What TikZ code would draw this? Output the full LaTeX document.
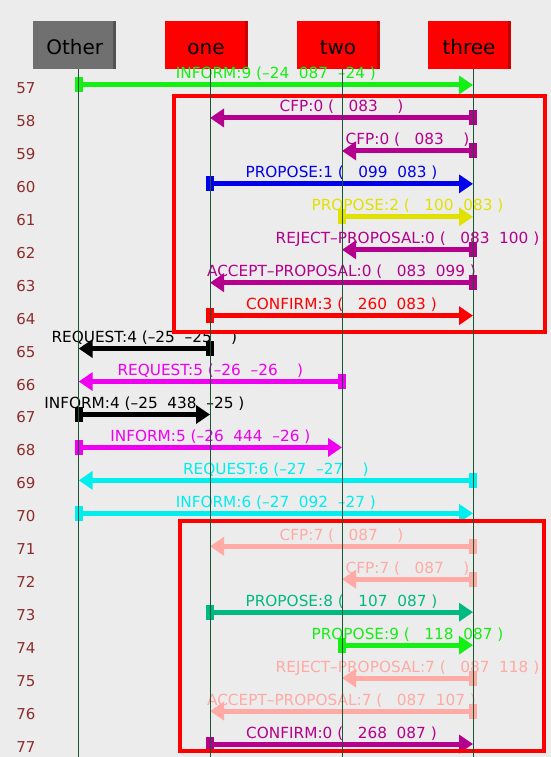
\documentclass[tikz,border=0pt]{standalone}
\usepackage{fontspec}
\setmainfont{DejaVu Sans}
\usepackage{xcolor}
\usepackage{tikz}
\usetikzlibrary{arrows.meta}

\definecolor{bggray}{RGB}{236,236,236}
\definecolor{agentgray}{RGB}{112,112,112}
\definecolor{lifegreen}{RGB}{25,85,50}
\definecolor{rowred}{RGB}{140,45,45}
\definecolor{mgreen}{RGB}{20,240,20}
\definecolor{mpurple}{RGB}{180,0,140}
\definecolor{mblue}{RGB}{0,0,235}
\definecolor{myellow}{RGB}{225,225,0}
\definecolor{mred}{RGB}{255,0,0}
\definecolor{mmagenta}{RGB}{240,0,240}
\definecolor{mcyan}{RGB}{0,238,238}
\definecolor{mpink}{RGB}{255,170,165}
\definecolor{mteal}{RGB}{0,185,130}

\begin{document}
\begin{tikzpicture}[x=1pt, y=1pt,
        agent/.style={fill=#1, minimum width=83pt, minimum height=48pt, inner sep=0pt,
            text height=20pt, text depth=0pt, font=\fontsize{20}{24}\selectfont,
            path picture={\fill[black, opacity=0.25] ([xshift=-3pt]path picture bounding box.north east) rectangle (path picture bounding box.south east);}},
        rowlabel/.style={text=rowred, font=\fontsize{15}{18}\selectfont},
        msg/.style={color=#1, line width=5pt, {Rectangle[length=8pt,width=15pt]}-{Triangle[length=14pt,width=18pt]}, shorten <=-4pt},
        msgtext/.style={midway, anchor=base, yshift=6pt, font=\fontsize{15.3}{18}\selectfont},
        lifeline/.style={draw=lifegreen, line width=1pt},
        group/.style={draw=mred, line width=4pt}]
        \fill[bggray] (0,0) rectangle (551,-757);
        \useasboundingbox (0,0) rectangle (551,-757);

        % one point per lifeline and row
        \foreach \n/\x in {Other/78.7, one/210, two/342, three/473} {
            \foreach \r in {57,...,77}
                \coordinate (\n-\r) at (\x, {-85-(\r-57)*32.95});
            \coordinate (\n-end) at (\x, -757);
        }

        \node[agent=agentgray] (Other) at (74.7,-45) {Other};
        \node[agent=mred] (one) at (206,-45) {one};
        \node[agent=mred] (two) at (338,-45) {two};
        \node[agent=mred] (three) at (469,-45) {three};

        \foreach \r in {57,...,77}
            \node[rowlabel] (n\r) at (26, {-88-(\r-57)*32.95}) {\r};

        \draw[msg=mgreen] (Other-57) -- (three-57) node[msgtext] {INFORM:9 (--24~~087~~--24~)};
        \draw[msg=mpurple] (three-58) -- (one-58) node[msgtext] {CFP:0 (~~~083~~~~)};
        \draw[msg=mpurple] (three-59) -- (two-59) node[msgtext] {CFP:0 (~~~083~~~~)};
        \draw[msg=mblue] (one-60) -- (three-60) node[msgtext] {PROPOSE:1 (~~~099~~083~)};
        \draw[msg=myellow] (two-61) -- (three-61) node[msgtext] {PROPOSE:2 (~~~100~~083~)};
        \draw[msg=mpurple] (three-62) -- (two-62) node[msgtext] {REJECT--PROPOSAL:0 (~~~083~~100~)};
        \draw[msg=mpurple] (three-63) -- (one-63) node[msgtext] {ACCEPT--PROPOSAL:0 (~~~083~~099~)};
        \draw[msg=mred] (one-64) -- (three-64) node[msgtext] {CONFIRM:3 (~~~260~~083~)};
        \draw[msg=black] (one-65) -- (Other-65) node[msgtext] {REQUEST:4 (--25~~--25~~~~)};
        \draw[msg=mmagenta] (two-66) -- (Other-66) node[msgtext] {REQUEST:5 (--26~~--26~~~~)};
        \draw[msg=black] (Other-67) -- (one-67) node[msgtext] {INFORM:4 (--25~~438~~--25~)};
        \draw[msg=mmagenta] (Other-68) -- (two-68) node[msgtext] {INFORM:5 (--26~~444~~--26~)};
        \draw[msg=mcyan] (three-69) -- (Other-69) node[msgtext] {REQUEST:6 (--27~~--27~~~~)};
        \draw[msg=mcyan] (Other-70) -- (three-70) node[msgtext] {INFORM:6 (--27~~092~~--27~)};
        \draw[msg=mpink] (three-71) -- (one-71) node[msgtext] {CFP:7 (~~~087~~~~)};
        \draw[msg=mpink] (three-72) -- (two-72) node[msgtext] {CFP:7 (~~~087~~~~)};
        \draw[msg=mteal] (one-73) -- (three-73) node[msgtext] {PROPOSE:8 (~~~107~~087~)};
        \draw[msg=mgreen] (two-74) -- (three-74) node[msgtext] {PROPOSE:9 (~~~118~~087~)};
        \draw[msg=mpink] (three-75) -- (two-75) node[msgtext] {REJECT--PROPOSAL:7 (~~~087~~118~)};
        \draw[msg=mpink] (three-76) -- (one-76) node[msgtext] {ACCEPT--PROPOSAL:7 (~~~087~~107~)};
        \draw[msg=mpurple] (one-77) -- (three-77) node[msgtext] {CONFIRM:0 (~~~268~~087~)};

        \draw[group] (174,-96.5) rectangle (544.5,-331.5);
        \draw[group] (179.5,-521) rectangle (544,-751);

        \foreach \n in {Other,one,two,three}
            \draw[lifeline] (\n.south -| \n-end) -- (\n-end);
    \end{tikzpicture}
\end{document}
